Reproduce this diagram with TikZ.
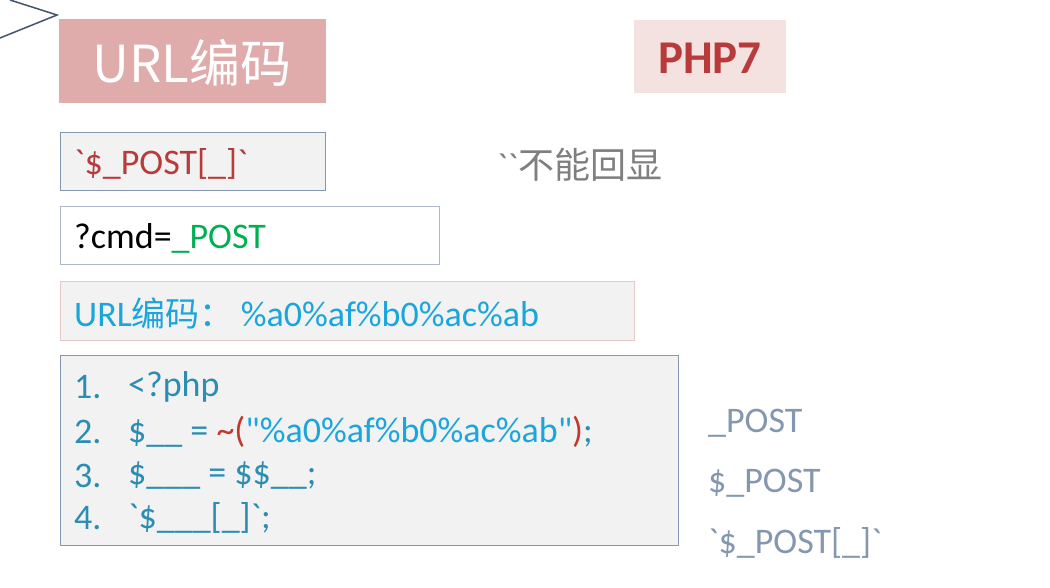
\documentclass[tikz,border=0pt]{standalone}
\usepackage{fontspec}
\setmainfont{Carlito}[Ligatures=ResetAll]
\newfontfamily\cjk{Noto Sans CJK SC}
\definecolor{titlefill}{HTML}{E0ABAB}
\definecolor{phpfill}{HTML}{F4E2E0}
\definecolor{darkred}{HTML}{B83B3B}
\definecolor{boxgray}{HTML}{F2F2F2}
\definecolor{blueborder}{HTML}{8497B0}
\definecolor{lightborder}{HTML}{ADB9CA}
\definecolor{pinkborder}{HTML}{E6C8C8}
\definecolor{grn}{HTML}{00B050}
\definecolor{cyantext}{HTML}{1AA6DC}
\definecolor{tealtext}{HTML}{2B8DB3}
\definecolor{graytext}{HTML}{7F7F7F}
\definecolor{slate}{HTML}{44546A}
\definecolor{redcode}{HTML}{C0392B}
\newcommand{\bq}{\textasciigrave}
\newcommand{\dq}{\textquotedbl}
\tikzset{
  txt/.style={anchor=west, inner sep=0pt, font=\fontsize{36}{42}\selectfont},
  panel/.style={line width=1pt},
}
\begin{document}
\begin{tikzpicture}[x=1pt,y=-1pt]
\useasboundingbox[fill=white] (0,0) rectangle (1050,588);
% chevron
\coordinate (c1) at (10,0);
\coordinate (c2) at (57,15);
\coordinate (c3) at (0,38);
\draw[slate, line width=1.5pt] (c1) -- (c2) -- (c3);
% title
\node[fill=titlefill, minimum width=267pt, minimum height=84pt, anchor=north west, inner sep=0pt] (title) at (59,19) {};
\node[text=white, inner sep=0pt, font=\cjk\fontsize{51}{60}\selectfont] (titletxt) at (192,63) {URL编码};
% PHP7
\node[fill=phpfill, minimum width=152pt, minimum height=73pt, anchor=north west, inner sep=0pt] (php) at (634,20) {};
\node[text=darkred, inner sep=0pt, font=\bfseries\fontsize{47}{52}\selectfont] (phptxt) at (710,58) {PHP7};
% boxes
\draw[panel, fill=boxgray, draw=blueborder] (60,133) rectangle (325,191);
\node[txt, text=darkred] (b1) at (74,164) {\bq\$\_POST[\_]\bq};
\draw[panel, fill=white, draw=lightborder] (60,207) rectangle (439,265);
\node[txt] (b2) at (74,238) {?cmd=\textcolor{grn}{\_POST}};
\draw[panel, fill=boxgray, draw=pinkborder] (60,282) rectangle (634,340);
\node[txt, text=cyantext] (b3) at (74,313) {URL{\cjk\fontsize{34}{40}\selectfont 编码：}\hspace{7pt}\%a0\%af\%b0\%ac\%ab};
% code box
\draw[panel, fill=boxgray, draw=blueborder] (60,355) rectangle (678,545);
\node[txt, text=tealtext] (n1) at (74,387) {1.};
\node[txt, text=tealtext] (n2) at (74,432) {2.};
\node[txt, text=tealtext] (n3) at (74,476) {3.};
\node[txt, text=tealtext] (n4) at (74,518) {4.};
\node[txt, text=tealtext] (l1) at (128,387) {<?php};
\node[txt, text=tealtext] (l2) at (128,432) {\$\_\_ = \textcolor{redcode}{\textasciitilde(}\textcolor{cyantext}{\dq\%a0\%af\%b0\%ac\%ab\dq}\textcolor{redcode}{)};};
\node[txt, text=tealtext] (l3) at (128,476) {\$\_\_\_ = \$\$\_\_;};
\node[txt, text=tealtext] (l4) at (128,518) {\bq\$\_\_\_[\_]\bq;};
% note
\node[txt, text=graytext] (note) at (497,165) {\bq\bq{\cjk\fontsize{36}{42}\selectfont 不能回显}};
% right column
\node[txt, text=blueborder] (r1) at (708,423) {\_POST};
\node[txt, text=blueborder] (r2) at (708,483) {\$\_POST};
\node[txt, text=blueborder] (r3) at (708,543) {\bq\$\_POST[\_]\bq};
\end{tikzpicture}
\end{document}
